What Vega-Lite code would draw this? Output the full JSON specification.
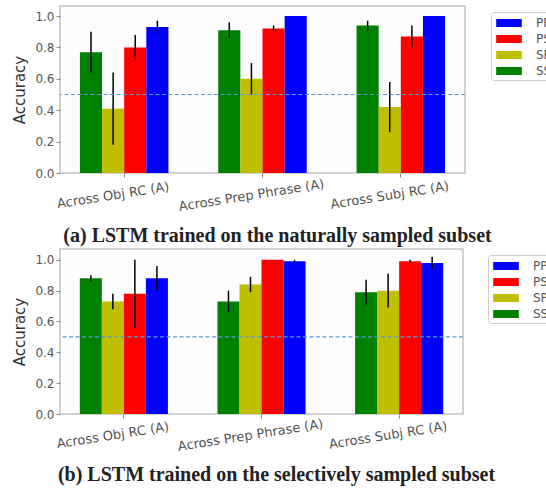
{
  "$schema": "https://vega.github.io/schema/vega-lite/v6.json",
  "padding": {"left": 12, "top": 5, "right": 0, "bottom": 2},
  "background": "white",
  "spacing": 0,
  "datasets": {
    "natural": [
      {"group": "Across Obj RC (A)", "cond": "SS", "acc": 0.77, "lo": 0.64, "hi": 0.90},
      {"group": "Across Obj RC (A)", "cond": "SP", "acc": 0.41, "lo": 0.18, "hi": 0.64},
      {"group": "Across Obj RC (A)", "cond": "PS", "acc": 0.80, "lo": 0.72, "hi": 0.88},
      {"group": "Across Obj RC (A)", "cond": "PP", "acc": 0.93, "lo": 0.89, "hi": 0.97},
      {"group": "Across Prep Phrase (A)", "cond": "SS", "acc": 0.91, "lo": 0.86, "hi": 0.96},
      {"group": "Across Prep Phrase (A)", "cond": "SP", "acc": 0.60, "lo": 0.50, "hi": 0.70},
      {"group": "Across Prep Phrase (A)", "cond": "PS", "acc": 0.92, "lo": 0.90, "hi": 0.94},
      {"group": "Across Prep Phrase (A)", "cond": "PP", "acc": 1.00, "lo": 1.00, "hi": 1.00},
      {"group": "Across Subj RC (A)", "cond": "SS", "acc": 0.94, "lo": 0.91, "hi": 0.97},
      {"group": "Across Subj RC (A)", "cond": "SP", "acc": 0.42, "lo": 0.26, "hi": 0.58},
      {"group": "Across Subj RC (A)", "cond": "PS", "acc": 0.87, "lo": 0.80, "hi": 0.94},
      {"group": "Across Subj RC (A)", "cond": "PP", "acc": 1.00, "lo": 1.00, "hi": 1.00}
    ],
    "selective": [
      {"group": "Across Obj RC (A)", "cond": "SS", "acc": 0.88, "lo": 0.86, "hi": 0.90},
      {"group": "Across Obj RC (A)", "cond": "SP", "acc": 0.73, "lo": 0.68, "hi": 0.78},
      {"group": "Across Obj RC (A)", "cond": "PS", "acc": 0.78, "lo": 0.56, "hi": 1.00},
      {"group": "Across Obj RC (A)", "cond": "PP", "acc": 0.88, "lo": 0.80, "hi": 0.96},
      {"group": "Across Prep Phrase (A)", "cond": "SS", "acc": 0.73, "lo": 0.66, "hi": 0.80},
      {"group": "Across Prep Phrase (A)", "cond": "SP", "acc": 0.84, "lo": 0.79, "hi": 0.89},
      {"group": "Across Prep Phrase (A)", "cond": "PS", "acc": 1.00, "lo": 1.00, "hi": 1.00},
      {"group": "Across Prep Phrase (A)", "cond": "PP", "acc": 0.99, "lo": 0.98, "hi": 1.00},
      {"group": "Across Subj RC (A)", "cond": "SS", "acc": 0.79, "lo": 0.71, "hi": 0.87},
      {"group": "Across Subj RC (A)", "cond": "SP", "acc": 0.80, "lo": 0.69, "hi": 0.91},
      {"group": "Across Subj RC (A)", "cond": "PS", "acc": 0.99, "lo": 0.98, "hi": 1.00},
      {"group": "Across Subj RC (A)", "cond": "PP", "acc": 0.98, "lo": 0.94, "hi": 1.02}
    ]
  },
  "config": {
    "view": {"stroke": "#c4c4c4", "strokeWidth": 1.5, "fill": "#fdfdfd"},
    "axis": {
      "grid": false,
      "domain": false,
      "labelFont": "DejaVu Sans",
      "labelFontSize": 12,
      "labelColor": "#555555",
      "labelOverlap": false,
      "tickColor": "#888888",
      "tickSize": 4,
      "titleFont": "DejaVu Sans",
      "titleFontSize": 15,
      "titleFontWeight": "normal",
      "titleColor": "#333333"
    },
    "axisY": {"labelOverlap": false, "labelFlush": false},
    "legend": {
      "orient": "none",
      "strokeColor": "#cccccc",
      "fillColor": "white",
      "cornerRadius": 3,
      "padding": 3,
      "rowPadding": 2,
      "labelFont": "DejaVu Sans",
      "labelFontSize": 12,
      "labelColor": "#555555",
      "labelOffset": 19,
      "symbolOffset": 7,
      "symbolType": "M-1.6,-0.5H1.6V0.5H-1.6Z",
      "symbolSize": 256,
      "symbolStrokeWidth": 0,
      "symbolOpacity": 1
    },
    "title": {
      "orient": "bottom",
      "anchor": "middle",
      "font": "Liberation Serif",
      "fontSize": 20,
      "fontWeight": "bold",
      "color": "#222222",
      "offset": 13,
      "dx": 15
    }
  },
  "resolve": {"scale": {"x": "independent", "y": "independent", "color": "independent", "xOffset": "independent"}, "legend": {"color": "independent"}},
  "vconcat": [
    {
      "title": {"text": "(a) LSTM trained on the naturally sampled subset", "offset": 13},
      "width": 405,
      "height": 167,
      "data": {"name": "natural"},
      "encoding": {
        "x": {"field": "group", "type": "nominal", "sort": null, "title": null,
              "scale": {"paddingInner": 0.36, "paddingOuter": 0.144},
              "axis": {"labelAngle": -9, "labelAlign": "center", "labelBaseline": "middle", "labelPadding": 18, "labelOffset": -11, "labelFontSize": 13}},
        "xOffset": {"field": "cond", "type": "nominal", "sort": ["SS", "SP", "PS", "PP"], "scale": {"paddingInner": 0, "paddingOuter": 0}}
      },
      "layer": [
        {
          "mark": {"type": "bar", "opacity": 1},
          "encoding": {
            "y": {"field": "acc", "type": "quantitative", "title": "Accuracy",
                  "scale": {"domain": [0, 1.064], "nice": false},
                  "axis": {"values": [0, 0.2, 0.4, 0.6, 0.8, 1.0], "format": ".1f", "titlePadding": 7, "labelOverlap": false}},
            "color": {"field": "cond", "type": "nominal", "title": null,
                      "scale": {"domain": ["PP", "PS", "SP", "SS"], "range": ["#0000ff", "#ff0000", "#bfbf00", "#008000"]},
                      "legend": {"legendX": 431, "legendY": 6}}
          }
        },
        {
          "mark": {"type": "rule", "color": "black", "strokeWidth": 1.5},
          "encoding": {
            "y": {"field": "lo", "type": "quantitative", "title": "Accuracy",
                  "axis": {"values": [0, 0.2, 0.4, 0.6, 0.8, 1.0], "format": ".1f", "titlePadding": 7, "labelOverlap": false}},
            "y2": {"field": "hi"}
          }
        },
        {
          "data": {"values": [{"ref": "chance"}]},
          "mark": {"type": "rule", "color": "#5b9bd5", "strokeWidth": 1.2, "strokeDash": [4, 2.5]},
          "encoding": {"x": null, "xOffset": null,
                  "y": {"datum": 0.5, "type": "quantitative", "title": "Accuracy",
                  "axis": {"values": [0, 0.2, 0.4, 0.6, 0.8, 1.0], "format": ".1f", "titlePadding": 7, "labelOverlap": false}}}
        }
      ]
    },
    {
      "title": {"text": "(b) LSTM trained on the selectively sampled subset", "offset": 12},
      "width": 403,
      "height": 165,
      "data": {"name": "selective"},
      "encoding": {
        "x": {"field": "group", "type": "nominal", "sort": null, "title": null,
              "scale": {"paddingInner": 0.36, "paddingOuter": 0.144},
              "axis": {"labelAngle": -9, "labelAlign": "center", "labelBaseline": "middle", "labelPadding": 17, "labelOffset": -11, "labelFontSize": 13}},
        "xOffset": {"field": "cond", "type": "nominal", "sort": ["SS", "SP", "PS", "PP"], "scale": {"paddingInner": 0, "paddingOuter": 0}}
      },
      "layer": [
        {
          "mark": {"type": "bar", "opacity": 1},
          "encoding": {
            "y": {"field": "acc", "type": "quantitative", "title": "Accuracy",
                  "scale": {"domain": [0, 1.07], "nice": false},
                  "axis": {"values": [0, 0.2, 0.4, 0.6, 0.8, 1.0], "format": ".1f", "titlePadding": 7, "labelOverlap": false}},
            "color": {"field": "cond", "type": "nominal", "title": null,
                      "scale": {"domain": ["PP", "PS", "SP", "SS"], "range": ["#0000ff", "#ff0000", "#bfbf00", "#008000"]},
                      "legend": {"legendX": 428, "legendY": 6}}
          }
        },
        {
          "mark": {"type": "rule", "color": "black", "strokeWidth": 1.5},
          "encoding": {
            "y": {"field": "lo", "type": "quantitative", "title": "Accuracy",
                  "axis": {"values": [0, 0.2, 0.4, 0.6, 0.8, 1.0], "format": ".1f", "titlePadding": 7, "labelOverlap": false}},
            "y2": {"field": "hi"}
          }
        },
        {
          "data": {"values": [{"ref": "chance"}]},
          "mark": {"type": "rule", "color": "#5b9bd5", "strokeWidth": 1.2, "strokeDash": [4, 2.5]},
          "encoding": {"x": null, "xOffset": null,
                  "y": {"datum": 0.5, "type": "quantitative", "title": "Accuracy",
                  "axis": {"values": [0, 0.2, 0.4, 0.6, 0.8, 1.0], "format": ".1f", "titlePadding": 7, "labelOverlap": false}}}
        }
      ]
    }
  ]
}
